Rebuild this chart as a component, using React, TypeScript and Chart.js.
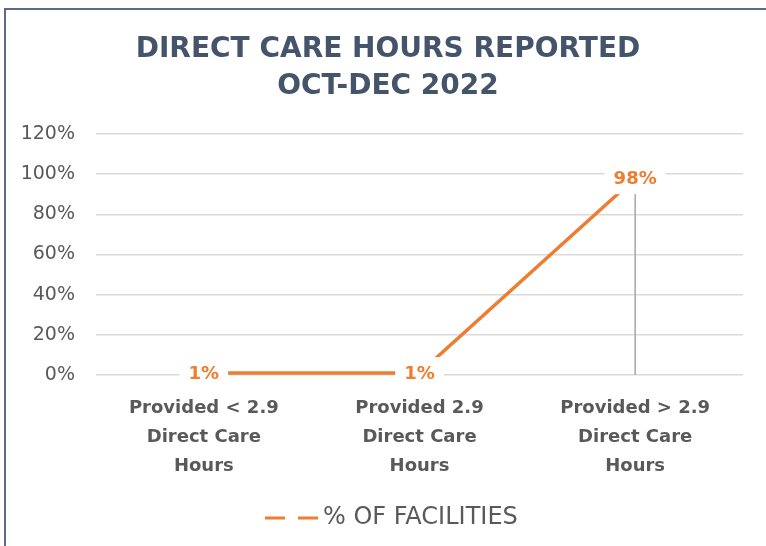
import React, { useEffect, useRef } from 'react';
import { Chart, registerables } from 'chart.js';

Chart.register(...registerables);

const titleLines = ['DIRECT CARE HOURS REPORTED', 'OCT-DEC 2022'];
const categories = [
  ['Provided < 2.9', 'Direct Care', 'Hours'],
  ['Provided 2.9', 'Direct Care', 'Hours'],
  ['Provided > 2.9', 'Direct Care', 'Hours'],
];
const seriesName = '% OF FACILITIES';
const facilitiesPct = [1, 1, 98];
const dataLabels = ['1%', '1%', '98%'];
const yMin = 0;
const yMax = 120;
const yStep = 20;

const ORANGE = '#ED7D31';
const GRAY_TEXT = '#595959';
const TITLE_COLOR = '#44546A';
const FONT = '"DejaVu Sans", sans-serif';

const framePlugin = {
  id: 'frame',
  beforeDraw(chart: any) {
    const { ctx, width, height } = chart;
    ctx.save();
    ctx.fillStyle = '#ffffff';
    ctx.fillRect(0, 0, width, height);
    ctx.strokeStyle = '#5B6B84';
    ctx.lineWidth = 2;
    ctx.beginPath();
    ctx.moveTo(5, height + 5);
    ctx.lineTo(5, 9);
    ctx.lineTo(width + 5, 9);
    ctx.stroke();
    // title
    ctx.fillStyle = TITLE_COLOR;
    ctx.font = `bold 28px ${FONT}`;
    ctx.textAlign = 'center';
    ctx.textBaseline = 'middle';
    titleLines.forEach((line, i) => {
      ctx.fillText(line, 388, 50 + i * 37);
    });
    ctx.restore();
  },
};

const dropLinePlugin = {
  id: 'dropLines',
  beforeDatasetsDraw(chart: any) {
    const { ctx, chartArea } = chart;
    const meta = chart.getDatasetMeta(0);
    ctx.save();
    ctx.strokeStyle = '#A6A6A6';
    ctx.lineWidth = 1.5;
    meta.data.forEach((pt: any) => {
      ctx.beginPath();
      ctx.moveTo(pt.x, pt.y);
      ctx.lineTo(pt.x, chartArea.bottom);
      ctx.stroke();
    });
    ctx.restore();
  },
};

const dataLabelPlugin = {
  id: 'dataLabels',
  afterDatasetsDraw(chart: any) {
    const { ctx } = chart;
    const meta = chart.getDatasetMeta(0);
    ctx.save();
    ctx.font = `bold 18px ${FONT}`;
    ctx.textAlign = 'center';
    ctx.textBaseline = 'middle';
    meta.data.forEach((pt: any, i: number) => {
      const text = dataLabels[i];
      const w = ctx.measureText(text).width;
      ctx.fillStyle = '#ffffff';
      ctx.fillRect(pt.x - w / 2 - 9, pt.y - 16, w + 18, 32);
      ctx.fillStyle = ORANGE;
      ctx.fillText(text, pt.x, pt.y + 1);
    });
    ctx.restore();
  },
};

const legendPlugin = {
  id: 'customLegend',
  afterDraw(chart: any) {
    const { ctx } = chart;
    const y = 518;
    ctx.save();
    ctx.strokeStyle = ORANGE;
    ctx.lineWidth = 3;
    ctx.setLineDash([20, 13]);
    ctx.beginPath();
    ctx.moveTo(265, y);
    ctx.lineTo(318, y);
    ctx.stroke();
    ctx.setLineDash([]);
    ctx.fillStyle = GRAY_TEXT;
    ctx.font = `24px ${FONT}`;
    ctx.textAlign = 'left';
    ctx.textBaseline = 'middle';
    ctx.fillText(seriesName, 323, y);
    ctx.restore();
  },
};

export default function App() {
  const ref = useRef<HTMLCanvasElement>(null);
  useEffect(() => {
    if (!ref.current) return;
    const chart = new Chart(ref.current, {
      type: 'line',
      data: {
        labels: categories as any,
        datasets: [
          {
            label: seriesName,
            data: facilitiesPct,
            borderColor: ORANGE,
            backgroundColor: ORANGE,
            borderWidth: 3.5,
            pointRadius: 0,
            tension: 0,
          },
        ],
      },
      options: {
        responsive: false,
        animation: false,
        layout: { padding: { left: 0, right: 23, top: 134, bottom: 0 } },
        plugins: {
          legend: { display: false },
          tooltip: { enabled: false },
          title: { display: false },
        },
        scales: {
          x: {
            offset: true,
            grid: { display: false, drawTicks: false },
            border: { display: false },
            ticks: {
              color: GRAY_TEXT,
              font: { family: FONT, size: 18, weight: 'bold', lineHeight: 29 / 18 },
              padding: 19,
              maxRotation: 0,
              autoSkip: false,
            },
            afterFit(scale: any) {
              scale.height = 171;
            },
          },
          y: {
            min: yMin,
            max: yMax,
            grid: { color: '#D9D9D9', lineWidth: 1.5, drawTicks: false },
            border: { display: false },
            ticks: {
              stepSize: yStep,
              color: GRAY_TEXT,
              font: { family: FONT, size: 19 },
              padding: 21,
              callback: (v: any) => `${v}%`,
            },
            afterFit(scale: any) {
              scale.width = 96;
            },
          },
        },
      },
      plugins: [framePlugin, dropLinePlugin, dataLabelPlugin, legendPlugin],
    });
    return () => chart.destroy();
  }, []);
  return (
    <div style={{ position: 'fixed', left: 0, top: 0 }}>
      <canvas ref={ref} width={766} height={546} style={{ display: 'block' }} />
    </div>
  );
}
